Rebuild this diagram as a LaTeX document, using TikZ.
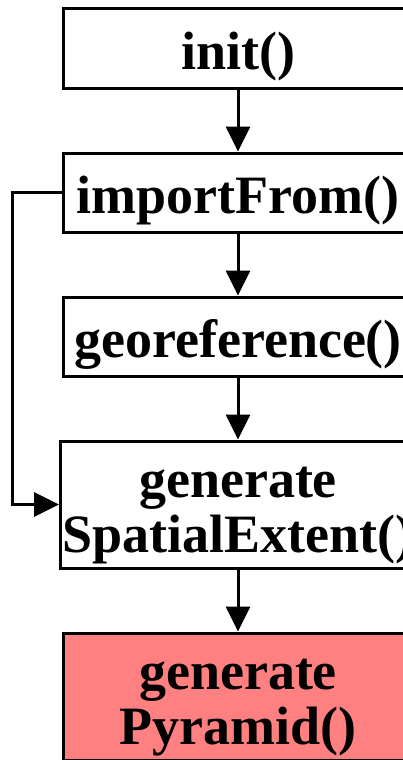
\documentclass[tikz,border=0pt]{standalone}
\usepackage{fontspec}
\setmainfont{Liberation Serif}
\usetikzlibrary{arrows.meta,positioning}
\newcommand{\fnstrut}{\rule{0pt}{53pt}}
\tikzset{fn/.style={draw, rectangle, line width=3pt, minimum width=350pt, minimum height=79pt, inner sep=2pt, align=center, font=\fontsize{54pt}{55pt}\selectfont\bfseries}}
\tikzstyle{fntall}=[fn, minimum height=127pt]

\begin{document}
\begin{tikzpicture}[x=1pt, y=1pt, >={Triangle[length=25pt,width=24pt]}, line width=3pt, node distance=62pt]
\clip (0,0) rectangle (403,-760);
\node[fn] (init) at (238,-48.5) {\fnstrut init()};
\node[fn][below=of init] (imp) {\fnstrut importFrom()};
\node[fn][below=of imp] (geo) {\fnstrut georeference()};
\node[fntall][below=of geo] (ext) {\fnstrut generate\\SpatialExtent()};
\node[fntall, fill={rgb,255:red,255;green,128;blue,128}][below=of ext] (pyr) {\fnstrut generate\\Pyramid()};
\path[->] (init) edge (imp)
	(imp) edge (geo)
	(geo) edge (ext)
	(ext) edge (pyr);
\draw[->] (imp.west) -- ++(-49,0) |- (ext.west);
\end{tikzpicture}
\end{document}
